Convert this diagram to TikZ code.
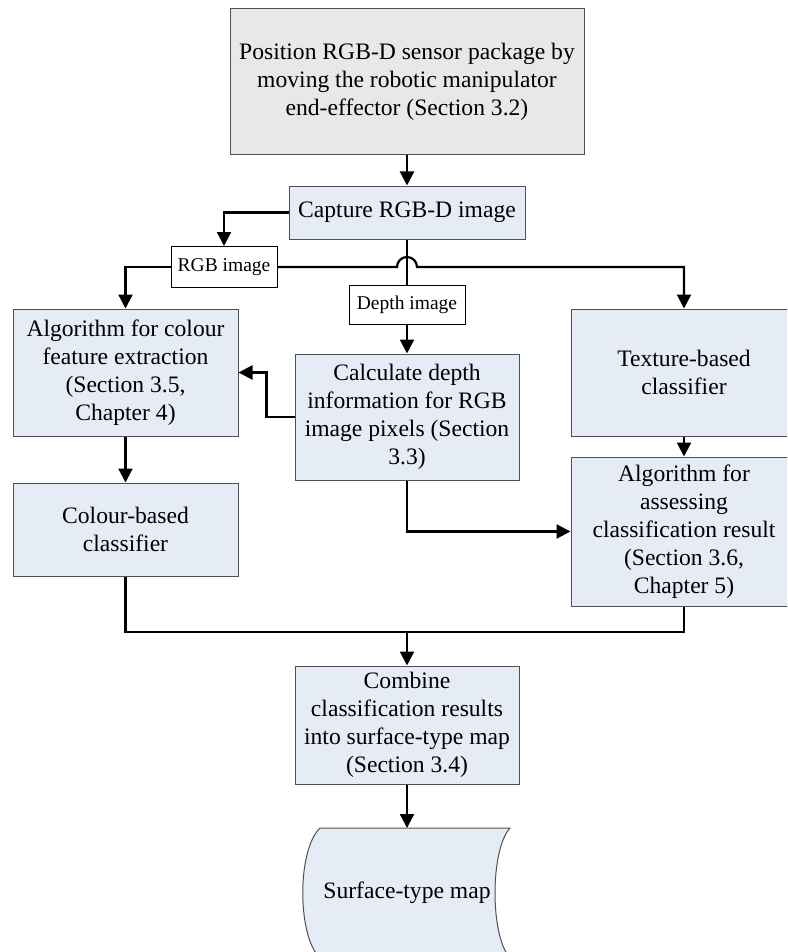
\documentclass[tikz,border=0pt]{standalone}
\usepackage{fontspec}
\setmainfont{Liberation Serif}
\usetikzlibrary{arrows.meta}
\definecolor{boxblue}{HTML}{E6ECF6}
\definecolor{boxgray}{HTML}{E8E8E8}
\definecolor{edgegray}{HTML}{505050}
\tikzset{
  procbox/.style={draw=edgegray, line width=1pt, fill=boxblue, inner sep=0pt, align=center,
    font=\fontsize{23.6}{28}\selectfont},
  graybox/.style={procbox, fill=boxgray},
  labelbox/.style={draw=black, line width=1pt, fill=white, inner sep=0pt, align=center,
    font=\fontsize{19.5}{23}\selectfont},
  conn/.style={line width=2.2pt, black},
  arr/.style={conn, -{Triangle[width=14pt,length=14pt]}},
}
\begin{document}
\begin{tikzpicture}[x=1pt,y=-1pt]
\useasboundingbox (0,0) rectangle (787,952);
\clip (0,0) rectangle (787,952);

\node[graybox, minimum width=354, minimum height=146] (top) at (407,82)
  {Position RGB-D sensor package by\\moving the robotic manipulator\\end-effector (Section 3.2)};
\node[procbox, minimum width=236, minimum height=53] (cap) at (407,212.5) {Capture RGB-D image};
\node[labelbox, minimum width=106, minimum height=41] (rgb) at (224,267) {RGB image};
\node[labelbox, minimum width=116, minimum height=39] (depth) at (407,304.5) {Depth image};
\node[procbox, minimum width=225, minimum height=127] (algo) at (125.5,372.5)
  {Algorithm for colour\\feature extraction\\(Section 3.5,\\Chapter 4)};
\node[procbox, minimum width=224, minimum height=126] (calc) at (407,417)
  {Calculate depth\\information for RGB\\image pixels (Section\\3.3)};
\node[procbox, minimum width=226, minimum height=127] (tex) at (684,372.5)
  {Texture-based\\classifier};
\node[procbox, minimum width=225, minimum height=93] (colour) at (125.5,529.5)
  {Colour-based\\classifier};
\node[procbox, minimum width=226, minimum height=149] (assess) at (684,531.5)
  {Algorithm for\\assessing\\classification result\\(Section 3.6,\\Chapter 5)};
\node[procbox, minimum width=224, minimum height=118] (comb) at (407,725)
  {Combine\\classification results\\into surface-type map\\(Section 3.4)};

% document (stored data) shape
\draw[draw=edgegray, line width=1pt, fill=boxblue]
  (320,828) -- (510,828)
  .. controls (490,850) and (490,936) .. (510,958)
  -- (320,958)
  .. controls (297,936) and (297,850) .. (320,828) -- cycle;
\node[font=\fontsize{23.6}{28}\selectfont, inner sep=0pt] (surf) at (407,893) {Surface-type map};
\coordinate (doctop) at (407,828);

% connectors
\draw[arr] (top.south) -- (cap.north);
\draw[arr] (cap.west) -| (rgb.north);
\draw[arr] (rgb.west) -| (algo.north);
\coordinate (hopL) at (397,267);
\draw[arr] (rgb.east) -- (hopL) arc[start angle=180, end angle=360, radius=10] -| (tex.north);
\draw[conn] (cap.south) -- (depth.north);
\draw[arr] (depth.south) -- (calc.north);
\draw[arr] (calc.west) -- ++(-28,0) |- (algo.east);
\draw[arr] (algo.south) -- (colour.north);
\draw[arr] (tex.south) -- (assess.north);
\draw[arr] (calc.south) |- (assess.west);
\coordinate (join) at (407,632);
\draw[conn] (colour.south) |- (join);
\draw[conn] (assess.south) |- (join);
\draw[arr] (join) -- (comb.north);
\draw[arr] (comb.south) -- (doctop);
\end{tikzpicture}
\end{document}
